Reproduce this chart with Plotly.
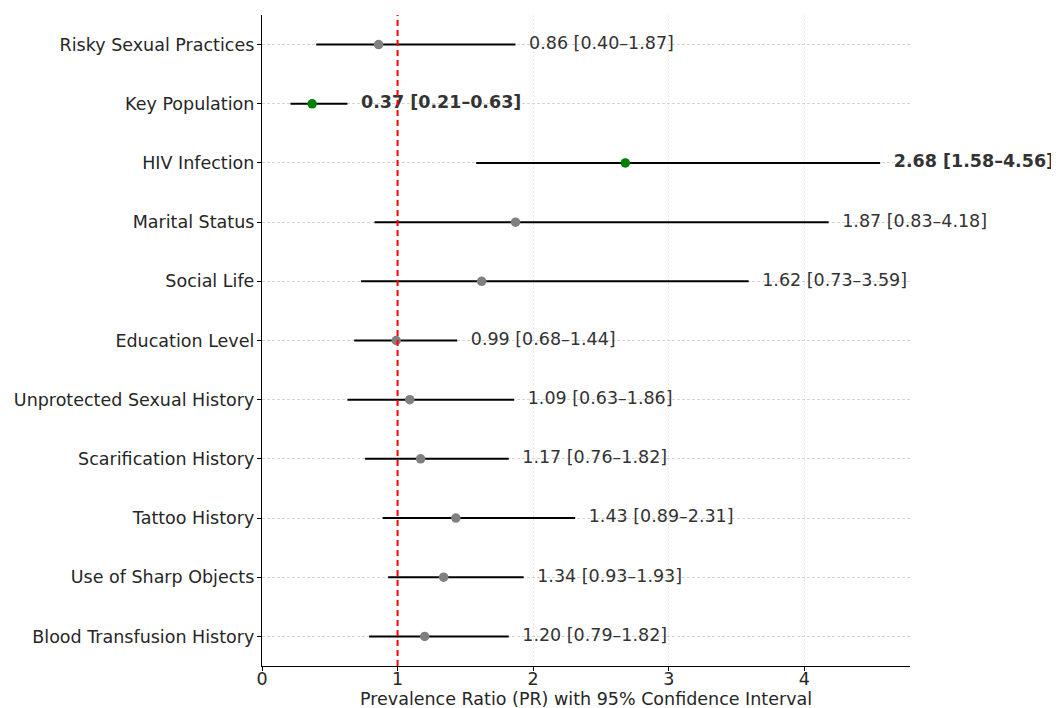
import plotly.graph_objects as go

categories = ["Risky Sexual Practices", "Key Population", "HIV Infection", "Marital Status",
              "Social Life", "Education Level", "Unprotected Sexual History",
              "Scarification History", "Tattoo History", "Use of Sharp Objects",
              "Blood Transfusion History"]
pr = [0.86, 0.37, 2.68, 1.87, 1.62, 0.99, 1.09, 1.17, 1.43, 1.34, 1.20]
lower = [0.40, 0.21, 1.58, 0.83, 0.73, 0.68, 0.63, 0.76, 0.89, 0.93, 0.79]
upper = [1.87, 0.63, 4.56, 4.18, 3.59, 1.44, 1.86, 1.82, 2.31, 1.93, 1.82]
significant = [False, True, True, False, False, False, False, False, False, False, False]
x_ticks = [0, 1, 2, 3, 4]
x_title = "Prevalence Ratio (PR) with 95% Confidence Interval"

FONT = "DejaVu Sans"
FS = 17.5
fig = go.Figure()

marker_colors = ["green" if s else "gray" for s in significant]

fig.add_trace(go.Scatter(
    x=pr, y=categories, mode="markers",
    marker=dict(color=marker_colors, size=9.5),
    error_x=dict(type="data", symmetric=False,
                 array=[u - p for u, p in zip(upper, pr)],
                 arrayminus=[p - l for p, l in zip(pr, lower)],
                 color="black", thickness=2, width=0),
    showlegend=False, hoverinfo="skip"))

labels = []
for p, l, u, s in zip(pr, lower, upper, significant):
    t = f"{p:.2f} [{l:.2f}\u2013{u:.2f}]"
    labels.append(f"<b>{t}</b>" if s else t)

fig.add_trace(go.Scatter(
    x=[u + 0.1 for u in upper], y=categories, mode="text",
    text=labels, textposition="middle right",
    textfont=dict(family=FONT, size=FS, color="#333333"),
    cliponaxis=False, showlegend=False, hoverinfo="skip"))

fig.add_vline(x=1, line=dict(color="red", width=2, dash="6px,4px"))

fig.add_annotation(text=x_title, xref="paper", yref="paper", x=0.5, y=0,
                   xanchor="center", yanchor="middle", yshift=-33, showarrow=False,
                   font=dict(family=FONT, size=FS, color="#262626"))

fig.update_layout(
    width=1051, height=700,
    margin=dict(l=254, r=149, t=7, b=42),
    plot_bgcolor="white", paper_bgcolor="white",
    font=dict(family=FONT, size=FS, color="#262626"),
    xaxis=dict(range=[0, 4.78], tickvals=x_ticks, showline=True, linecolor="black",
               linewidth=1.3, ticks="outside", ticklen=4, tickcolor="black",
               ticklabelstandoff=-7,
               showgrid=True, gridcolor="#e8e8e8", griddash="2px,2px", gridwidth=1,
               zeroline=False, automargin=False),
    yaxis=dict(categoryorder="array", categoryarray=categories, autorange=False,
               range=[10.5, -0.5], showline=True, linecolor="black", linewidth=1.3,
               ticks="outside", ticklen=4, tickcolor="black", automargin=False,
               ticklabelstandoff=-1,
               showgrid=True, gridcolor="#d4d4d4", griddash="3px,2px", gridwidth=0.8,
               zeroline=False),
)

fig.write_html("out.html")
